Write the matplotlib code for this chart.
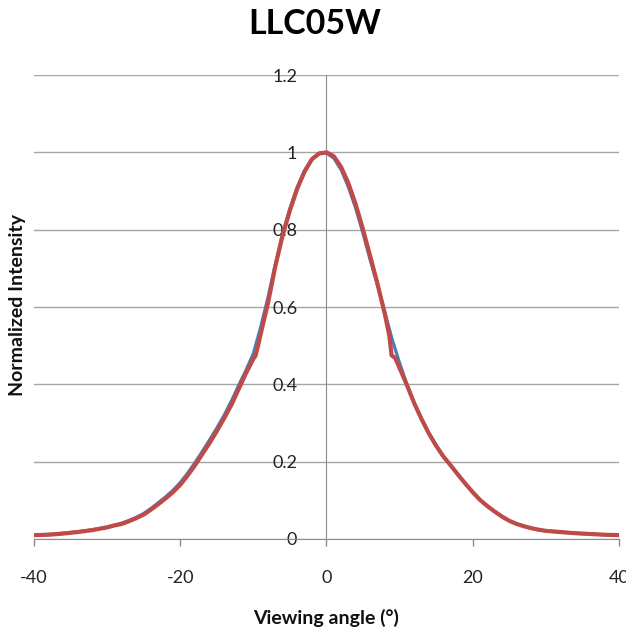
import matplotlib.pyplot as plt

# 數據：角度與強度
angle_blue = [-40, -38, -36, -34, -32, -30, -29, -28, -27, -26, -25, -24, -23, -22, -21,
              -20, -19, -18, -17, -16, -15, -14, -13, -12, -11, -10, -9, -8, -7, -6, -5,
              -4, -3, -2, -1, 0, 1, 2, 3, 4, 5, 6, 7, 8, 9, 10, 11, 12, 13, 14, 15, 16,
              17, 18, 19, 20, 21, 22, 23, 24, 25, 26, 27, 28, 29, 30, 32, 34, 36, 38, 40]
intensity_blue = [0.010, 0.012, 0.015, 0.019, 0.024, 0.031, 0.036, 0.041, 0.048, 0.056,
                  0.066, 0.079, 0.094, 0.109, 0.126, 0.146, 0.170, 0.197, 0.226, 0.256,
                  0.287, 0.320, 0.357, 0.398, 0.437, 0.480, 0.548, 0.625, 0.710, 0.790,
                  0.855, 0.910, 0.953, 0.983, 0.998, 0.998, 0.985, 0.955, 0.910, 0.855,
                  0.790, 0.720, 0.655, 0.585, 0.515, 0.455, 0.400, 0.352, 0.310, 0.273,
                  0.241, 0.213, 0.190, 0.166, 0.143, 0.121, 0.101, 0.085, 0.071, 0.058,
                  0.047, 0.039, 0.033, 0.028, 0.024, 0.021, 0.018, 0.015, 0.013, 0.011,
                  0.010]

angle_red = [-40, -38, -36, -34, -32, -30, -29, -28, -27, -26, -25, -24, -23, -22, -21,
             -20, -19, -18, -17, -16, -15, -14, -13, -12, -11, -10, -9.7, -9.3, -9, -8,
             -7, -6, -5, -4, -3, -2, -1, 0, 1, 2, 3, 4, 5, 6, 7, 8, 8.6, 8.9, 9.4, 10,
             11, 12, 13, 14, 15, 16, 17, 18, 19, 20, 21, 22, 23, 24, 25, 26, 27, 28, 29,
             30, 32, 34, 36, 38, 40]
intensity_red = [0.010, 0.011, 0.014, 0.018, 0.023, 0.030, 0.035, 0.039, 0.046, 0.054,
                 0.063, 0.076, 0.090, 0.105, 0.121, 0.140, 0.164, 0.190, 0.219, 0.248,
                 0.279, 0.312, 0.347, 0.388, 0.429, 0.466, 0.474, 0.505, 0.530, 0.610,
                 0.705, 0.785, 0.850, 0.906, 0.950, 0.982, 0.997, 1.000, 0.990, 0.962,
                 0.920, 0.865, 0.800, 0.730, 0.658, 0.580, 0.525, 0.475, 0.468, 0.442,
                 0.398, 0.351, 0.310, 0.273, 0.241, 0.213, 0.190, 0.166, 0.143, 0.121,
                 0.101, 0.085, 0.071, 0.058, 0.047, 0.039, 0.033, 0.028, 0.024, 0.021,
                 0.018, 0.015, 0.013, 0.011, 0.010]

x_ticks = [-40, -20, 0, 20, 40]
y_ticks = [0, 0.2, 0.4, 0.6, 0.8, 1, 1.2]
y_tick_labels = ['0', '0.2', '0.4', '0.6', '0.8', '1', '1.2']

plt.rcParams['font.family'] = ['Lato', 'DejaVu Sans']
plt.rcParams['axes.unicode_minus'] = False

fig = plt.figure(figsize=(6.26, 6.33), dpi=100)
ax = fig.add_axes([0.0543, 0.1485, 0.9345, 0.733])

ax.plot(angle_blue, intensity_blue, color='#4a7ebb', lw=2.3, zorder=3)
ax.plot(angle_red, intensity_red, color='#be4b48', lw=3.0, zorder=4)

ax.set_xlim(-40, 40)
ax.set_ylim(0, 1.2)

# 軸線設定
for s in ['top', 'right']:
    ax.spines[s].set_visible(False)
ax.spines['left'].set_position(('data', 0))
ax.spines['left'].set_color('#8c8c8c')
ax.spines['bottom'].set_color('#8c8c8c')
ax.spines['left'].set_zorder(2)

ax.set_xticks(x_ticks)
ax.set_yticks(y_ticks)
ax.set_yticklabels(y_tick_labels)
ax.tick_params(axis='x', length=5, width=1, color='#8c8c8c', pad=17, labelsize=13, labelcolor='#222222')
ax.tick_params(axis='y', length=0, pad=21, labelsize=13, labelcolor='#222222')

ax.yaxis.grid(True, color='#a6a6a6', lw=1)
ax.set_axisbelow(True)

fig.text(0.503, 1 - 24 / 633, 'LLC05W', ha='center', va='center', fontsize=24.5, fontweight='bold')
fig.text(0.521, 1 - 618 / 633, 'Viewing angle (°)', ha='center', va='center', fontsize=14, fontweight='bold',
         color='#111111')
fig.text(18 / 626, 1 - 305 / 633, 'Normalized Intensity', ha='center', va='center', rotation=90,
         fontsize=14, fontweight='bold', color='#111111')

fig.savefig('out.png', dpi=100)
